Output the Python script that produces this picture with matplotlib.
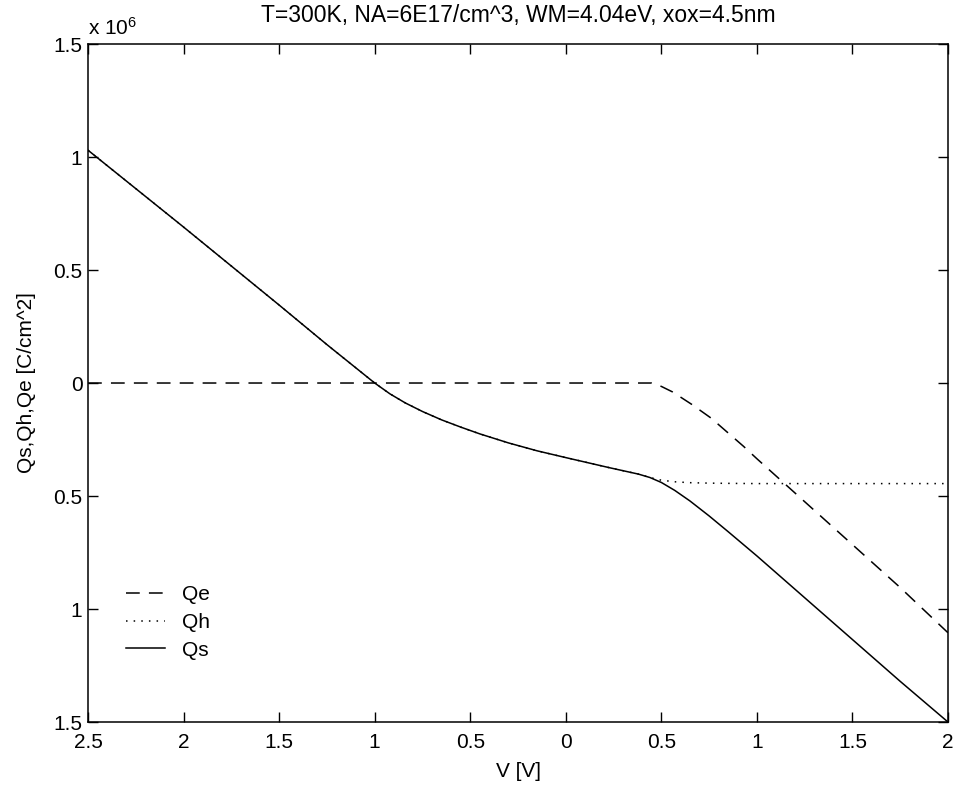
import matplotlib
matplotlib.use('Agg')
import matplotlib.pyplot as plt
from matplotlib.ticker import FixedLocator, FixedFormatter

plt.rcParams['font.family'] = ['Liberation Sans', 'DejaVu Sans']
plt.rcParams['mathtext.default'] = 'regular'

# ── Datos (carga en unidades de 1e-6 C/cm^2) ─────────────────────────────────
V = [-2.5, -2.0, -1.5, -1.25, -1.0, -0.92, -0.84, -0.75, -0.65, -0.55, -0.45,
     -0.3, -0.15, 0.0, 0.23, 0.38, 0.44, 0.5, 0.57, 0.65, 0.75, 0.85, 1.0,
     1.25, 1.5, 1.75, 2.0]
Qs = [1.03, 0.69, 0.345, 0.17, 0.0, -0.048, -0.088, -0.126, -0.163, -0.195,
      -0.225, -0.265, -0.3, -0.33, -0.375, -0.403, -0.418, -0.44, -0.475,
      -0.522, -0.588, -0.658, -0.765, -0.95, -1.135, -1.32, -1.5]
Qh = [1.03, 0.69, 0.345, 0.17, 0.0, -0.048, -0.088, -0.126, -0.163, -0.195,
      -0.225, -0.265, -0.3, -0.33, -0.375, -0.403, -0.418, -0.43, -0.437,
      -0.441, -0.443, -0.444, -0.445, -0.445, -0.445, -0.445, -0.445]

V_e = [-2.5, 0.45, 0.5, 0.56, 0.66, 0.76, 0.93, 1.0, 1.25, 1.5, 1.75, 2.0]
Qe = [0.0, 0.0, -0.015, -0.04, -0.095, -0.155, -0.28, -0.335, -0.525, -0.715,
      -0.905, -1.105]

x_ticks = [-2.5, -2, -1.5, -1, -0.5, 0, 0.5, 1, 1.5, 2]
x_labels = ['2.5', '2', '1.5', '1', '0.5', '0', '0.5', '1', '1.5', '2']
y_ticks = [-1.5, -1, -0.5, 0, 0.5, 1, 1.5]
y_labels = ['1.5', '1', '0.5', '0', '0.5', '1', '1.5']

title = 'T=300K, NA=6E17/cm^3, WM=4.04eV, xox=4.5nm'

# ── Figura ───────────────────────────────────────────────────────────────────
fs = 15
fig = plt.figure(figsize=(9.59, 7.86), dpi=100)
ax = fig.add_axes([0.0918, 0.0814, 0.8967, 0.8626])

ax.plot(V_e, Qe, color='black', lw=1.1, dashes=(9, 6), label='Qe')
ax.plot(V, Qh, color='black', lw=1.1, dashes=(1, 4), label='Qh')
ax.plot(V, Qs, color='black', lw=1.1, label='Qs')

ax.set_xlim(-2.5, 2)
ax.set_ylim(-1.5, 1.5)
ax.xaxis.set_major_locator(FixedLocator(x_ticks))
ax.xaxis.set_major_formatter(FixedFormatter(x_labels))
ax.yaxis.set_major_locator(FixedLocator(y_ticks))
ax.yaxis.set_major_formatter(FixedFormatter(y_labels))
ax.tick_params(direction='in', length=7, width=1, top=True, right=True,
               labelsize=fs, colors='black')
ax.tick_params(axis='x', pad=8)
ax.tick_params(axis='y', pad=4)
for sp in ax.spines.values():
    sp.set_linewidth(1.1)

ax.set_xlabel('V [V]', fontsize=fs, labelpad=7)
ax.set_ylabel('Qs,Qh,Qe [C/cm^2]', fontsize=fs)
ax.yaxis.set_label_coords(-0.061, 0.5)
ax.set_title(title, fontsize=16.5, pad=16)
ax.text(0.0, 1.013, r'x 10$^{6}$', transform=ax.transAxes,
        ha='left', va='baseline', fontsize=fs)

ax.legend(loc='upper left', bbox_to_anchor=(0.044, 0.202), frameon=False,
          fontsize=fs, handlelength=1.9, handletextpad=0.8, labelspacing=0.42,
          borderpad=0, borderaxespad=0)

fig.savefig('out.png', dpi=100)
